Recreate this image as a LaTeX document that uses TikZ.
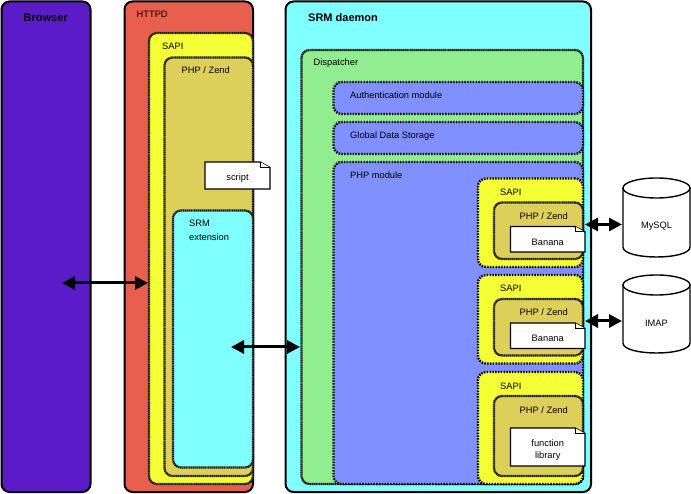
\documentclass[tikz,border=0pt]{standalone}
\usepackage{fontspec}
\setmainfont{Liberation Sans}
\usetikzlibrary{arrows.meta,calc}
\definecolor{cBrowser}{HTML}{5C1BC8}
\definecolor{cHttpd}{HTML}{E85F4D}
\definecolor{cSapi}{HTML}{F4FF36}
\definecolor{cPhp}{HTML}{DCCF5A}
\definecolor{cSrm}{HTML}{80FFFF}
\definecolor{cDisp}{HTML}{90EE90}
\definecolor{cMod}{HTML}{8090FF}
\tikzset{
  areabox/.style={rectangle,inner sep=0pt,outer sep=0pt,rounded corners=8pt},
  solidbox/.style={areabox,draw=black,line width=2pt},
  dotbox/.style={areabox,draw=black,line width=2.4pt,dash pattern=on 1.5pt off 1.3pt},
  dashbox/.style={areabox,draw=black!90,line width=2.2pt,dash pattern=on 1.4pt off .5pt},
  lab/.style={inner sep=0pt,anchor=base west,font=\fontsize{9.3}{11}\selectfont},
  blab/.style={inner sep=0pt,anchor=base west,font=\fontsize{11}{13}\selectfont\bfseries},
  ctext/.style={inner sep=0pt,align=center,font=\fontsize{9.3}{12.5}\selectfont},
  biarrow/.style={line width=3pt,{Triangle[length=13pt,width=13pt]}-{Triangle[length=13pt,width=13pt]},shorten <=0pt,shorten >=0pt},
  docline/.style={draw=black,fill=white,line width=1.4pt,line join=miter},
  cylline/.style={draw=black,fill=white,line width=1.4pt}
}
% \abox{style}{fill}{name}{x1}{y1}{x2}{y2}
\newcommand{\abox}[7]{%
  \pgfmathsetmacro{\mycx}{(#4+#6)/2}\pgfmathsetmacro{\mycy}{(#5+#7)/2}%
  \pgfmathsetmacro{\myw}{#6-#4}\pgfmathsetmacro{\myh}{#7-#5}%
  \node[#1,fill=#2,minimum width=\myw pt,minimum height=\myh pt] (#3) at (\mycx,\mycy) {};}
% \docbox{name}{x1}{y1}{x2}{y2}{text}
\newcommand{\docbox}[6]{%
  \draw[docline] (#2,#3) -- (#4-10,#3) -- (#4,#3+5.5) -- (#4,#5) -- (#2,#5) -- cycle;
  \draw[docline,line width=1pt] (#4-10,#3) -- (#4-10,#3+5.5) -- (#4,#3+5.5);
  \pgfmathsetmacro{\mycx}{(#2+#4)/2}\pgfmathsetmacro{\mycy}{(#3+#5)/2+3}%
  \node[ctext] (#1) at (\mycx,\mycy) {#6};}
% \cyl{name}{x1}{y1}{x2}{y2}{text}
\newcommand{\cyl}[6]{%
  \pgfmathsetmacro{\mycx}{(#2+#4)/2}\pgfmathsetmacro{\myrx}{(#4-#2)/2}%
  \draw[cylline] (#2,#3+10) -- (#2,#5-10) .. controls (#2,#5+3.3) and (#4,#5+3.3) .. (#4,#5-10) -- (#4,#3+10) -- cycle;
  \draw[cylline] (\mycx,#3+10) ellipse[x radius=\myrx,y radius=10];
  \node[ctext] (#1) at (\mycx,{(#3+#5)/2+9}) {#6};}
\begin{document}
\begin{tikzpicture}[x=1pt,y=-1pt]
\useasboundingbox (0,0) rectangle (691,494);
% Browser
\abox{solidbox}{cBrowser}{browser}{1.5}{1.5}{90.5}{492}
\node[blab] (tbrowser) at (23.5,22) {Browser};
% HTTPD stack
\abox{solidbox}{cHttpd}{httpd}{124.5}{1.5}{253}{492}
\node[lab] (thttpd) at (136.5,18) {HTTPD};
\abox{dashbox}{cSapi}{sapi}{149}{33}{253}{484}
\node[lab] (tsapi) at (162,50) {SAPI};
\abox{dashbox}{cPhp}{php}{164.5}{57.5}{253}{476}
\node[lab] (tphp) at (181.5,74) {PHP / Zend};
\abox{dashbox}{cSrm}{ext}{173}{210.5}{253}{467.5}
\node[lab] (text1) at (189,227) {SRM};
\node[lab] (text2) at (189,240.5) {extension};
\docbox{script}{205}{162}{270}{189}{script}
% SRM daemon
\abox{solidbox}{cSrm}{daemon}{285.5}{1.5}{591}{492}
\node[blab] (tdaemon) at (308,22) {SRM daemon};
\abox{dashbox}{cDisp}{disp}{301.5}{50}{583}{484}
\node[lab] (tdisp) at (313.5,66) {Dispatcher};
\abox{dotbox}{cMod}{auth}{333.5}{82}{583}{114}
\node[lab] (tauth) at (350,98.5) {Authentication module};
\abox{dotbox}{cMod}{gds}{333.5}{122}{583}{154}
\node[lab] (tgds) at (350,138.5) {Global Data Storage};
\abox{dotbox}{cMod}{mod}{333.5}{162}{583}{484}
\node[lab] (tmod) at (350,178.5) {PHP module};
% First SAPI
\abox{dotbox}{cSapi}{sapia}{478}{178.5}{583}{267}
\node[lab] (tsapia) at (500,195.5) {SAPI};
\abox{dashbox}{cPhp}{phpa}{494}{202.5}{583}{259}
\node[lab] (tphpa) at (519.5,219.5) {PHP / Zend};
\docbox{bana}{510.5}{226.5}{585}{252}{Banana}
% Second SAPI
\abox{dotbox}{cSapi}{sapib}{478}{275}{583}{363.5}
\node[lab] (tsapib) at (500,292) {SAPI};
\abox{dashbox}{cPhp}{phpb}{494}{299}{583}{355.5}
\node[lab] (tphpb) at (519.5,316) {PHP / Zend};
\docbox{banb}{510.5}{323}{585}{348.5}{Banana}
% Third SAPI
\abox{dotbox}{cSapi}{sapic}{478}{372}{583}{484}
\node[lab] (tsapic) at (500,389) {SAPI};
\abox{dashbox}{cPhp}{phpc}{494}{396}{583}{476}
\node[lab] (tphpc) at (519.5,413) {PHP / Zend};
\docbox{lib}{510.5}{428}{585}{466}{function\\library}
% Databases
\cyl{mysql}{623}{178}{690}{257}{MySQL}
\cyl{imap}{623}{275}{690}{353}{IMAP}
% Connectors
\coordinate (a1) at (62,283); \coordinate (a2) at (148,283);
\coordinate (b1) at (231,347); \coordinate (b2) at (300,347);
\coordinate (c1) at (585,224.5); \coordinate (c2) at (622,224.5);
\coordinate (d1) at (585,321); \coordinate (d2) at (622,321);
\draw[biarrow] (a1) -- (a2);
\draw[biarrow] (b1) -- (b2);
\draw[biarrow] (c1) -- (c2);
\draw[biarrow] (d1) -- (d2);
\end{tikzpicture}
\end{document}
